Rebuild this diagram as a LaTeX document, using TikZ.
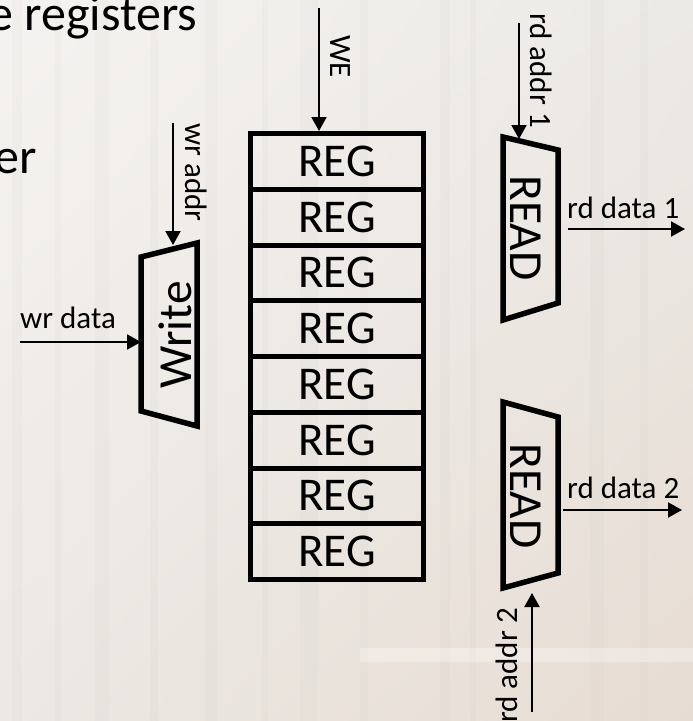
\documentclass[tikz,border=0pt]{standalone}
\usepackage{fontspec}
\setmainfont{Carlito}
\usetikzlibrary{arrows.meta,calc,shadings}
\definecolor{bgUL}{RGB}{245,243,241}
\definecolor{bgUR}{RGB}{236,234,230}
\definecolor{bgLL}{RGB}{236,232,227}
\definecolor{bgLR}{RGB}{231,220,211}
\definecolor{bggrey}{RGB}{190,186,180}
\begin{document}
\begin{tikzpicture}[x=1pt,y=-1pt,
  shapeline/.style={draw, line width=5.5pt, line join=miter},
  reg/.style={draw, line width=5pt, minimum width=173pt, minimum height=55.75pt,
    inner sep=0pt, anchor=north, font=\fontsize{47}{47}\selectfont},
  arr/.style={line width=2pt, -{Triangle[length=14pt,width=15pt]}},
  lbl/.style={font=\fontsize{31}{31}\selectfont, inner sep=0pt},
  big/.style={font=\fontsize{47.5}{47.5}\selectfont, inner sep=0pt},
  ttl/.style={font=\fontsize{50}{50}\selectfont, inner sep=0pt}]
% background
\shade[upper left=bgUL, upper right=bgUR, lower left=bgLL, lower right=bgLR]
  (0,0) rectangle (693,721);
\useasboundingbox (0,0) rectangle (693,721);
\foreach \xx/\ww in {12/10, 55/6, 95/14, 150/8, 205/12, 262/6, 300/18, 360/8, 440/10, 470/6, 590/14, 640/8}
  \fill[bggrey, opacity=0.07] (\xx,0) rectangle ++(\ww,721);
\fill[white, opacity=0.3] (360,648) rectangle (693,662);

% title fragments
\node[ttl, anchor=base west] (title) at (-12,30) {e registers};
\node[ttl, anchor=base west] (er) at (-6,173) {er};

% register file
\foreach \i in {1,...,8}
  \node[reg] (r\i) at (337,{131+(\i-1)*55.75}) {REG};

% write block
\coordinate (w1) at (141,257);
\coordinate (w2) at (197,243);
\coordinate (w3) at (197,426);
\coordinate (w4) at (141,411);
\draw[shapeline] (w1) -- (w2) -- (w3) -- (w4) -- cycle;
\node[big, rotate=90] (write) at (175,335) {Write};

% read block 1
\coordinate (a1) at (503,137);
\coordinate (a2) at (558,150);
\coordinate (a3) at (558,303);
\coordinate (a4) at (503,320);
\draw[shapeline] (a1) -- (a2) -- (a3) -- (a4) -- cycle;
\node[big, rotate=-90] (read1) at (526,228) {READ};

% read block 2
\coordinate (b1) at (503,402);
\coordinate (b2) at (558,417);
\coordinate (b3) at (558,573);
\coordinate (b4) at (503,588);
\draw[shapeline] (b1) -- (b2) -- (b3) -- (b4) -- cycle;
\node[big, rotate=-90] (read2) at (526,496) {READ};

% connectors
\coordinate (weS) at (319,8);
\draw[arr] (weS) -- (weS |- r1.north);
\node[lbl, rotate=-90, anchor=base west] (weL) at (330,35) {WE};

\coordinate (waS) at (173,123);
\coordinate (waT) at (173,245);
\draw[arr] (waS) -- (waT);
\node[lbl, rotate=-90, anchor=base west] (waL) at (185,123) {wr addr};

\coordinate (wdS) at (20,342);
\draw[arr] (wdS) -- (wdS -| w1);
\node[lbl, anchor=base west] (wdL) at (20,328) {wr data};

\coordinate (ra1S) at (519,23);
\coordinate (ra1T) at (519,139);
\draw[arr] (ra1S) -- (ra1T);
\node[lbl, rotate=-90, anchor=base west] (ra1L) at (530,13) {rd addr 1};

\coordinate (rd1S) at (568,229);
\coordinate (rd1T) at (685,229);
\draw[arr] (rd1S) -- (rd1T);
\node[lbl, anchor=base west] (rd1L) at (567,218) {rd data 1};

\coordinate (rd2S) at (563,510);
\coordinate (rd2T) at (682,510);
\draw[arr] (rd2S) -- (rd2T);
\node[lbl, anchor=base west] (rd2L) at (567,498) {rd data 2};

\coordinate (ra2S) at (532,712);
\coordinate (ra2T) at (532,593);
\draw[arr] (ra2S) -- (ra2T);
\node[lbl, rotate=90, anchor=base west] (ra2L) at (517,723) {rd addr 2};
\end{tikzpicture}
\end{document}
